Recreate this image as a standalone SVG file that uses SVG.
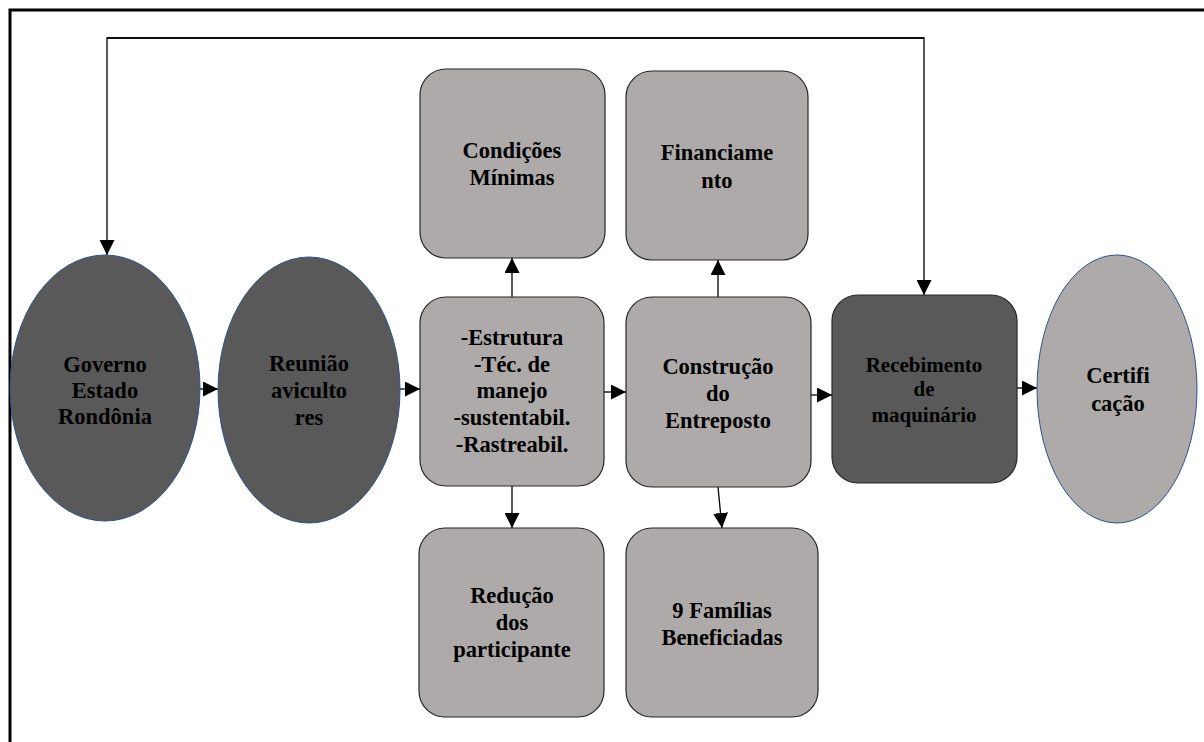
<svg xmlns="http://www.w3.org/2000/svg" width="1204" height="742" viewBox="0 0 1204 742">
<defs>
<marker id="ah" viewBox="0 0 10 10" refX="10" refY="5" markerWidth="15" markerHeight="15" markerUnits="userSpaceOnUse" orient="auto">
<path d="M0,0 L10,5 L0,10 Z" fill="#000"/>
</marker>
<style>
.dark{fill:#595959;}
.light{fill:#aeaaaa;}
.ell{stroke:#2f528f;stroke-width:1;}
.box{stroke:#262626;stroke-width:1.2;}
text{font-family:'Liberation Serif','DejaVu Serif',serif;font-weight:bold;font-size:22.5px;fill:#000;text-anchor:middle;}
.s{font-size:21px;}
.cm{fill:none;stroke:#000;stroke-width:1.3;marker-end:url(#ah);}
</style>
</defs>
<rect width="1204" height="742" fill="#fff"/>
<path d="M10,742 V10 H1204" fill="none" stroke="#000" stroke-width="3"/>

<g id="connectors">
<path class="cm" d="M924,38 H107 V255"/>
<path class="cm" d="M107,38 H924 V295"/>
<path class="cm" d="M200,389 H218"/>
<path class="cm" d="M400,389 H420"/>
<path class="cm" d="M604,392 H626"/>
<path class="cm" d="M811,395 H832"/>
<path class="cm" d="M1017,388 H1037"/>
<path class="cm" d="M512,297 V258"/>
<path class="cm" d="M718,297 V260"/>
<path class="cm" d="M512,486 V528"/>
<path class="cm" d="M718,487 L722,528"/>
</g>

<g id="governo">
<ellipse class="dark ell" cx="105" cy="388" rx="95" ry="133"/>
<text x="105" y="372">Governo</text>
<text x="105" y="398">Estado</text>
<text x="105" y="424">Rondônia</text>
</g>

<g id="reuniao">
<ellipse class="dark ell" cx="309" cy="390" rx="91" ry="133"/>
<text x="309" y="371">Reunião</text>
<text x="309" y="398">aviculto</text>
<text x="309" y="425">res</text>
</g>

<g id="estrutura">
<rect class="light box" x="420" y="297" width="184" height="189" rx="26"/>
<text x="512" y="345">-Estrutura</text>
<text x="512" y="372">-Téc. de</text>
<text x="512" y="398">manejo</text>
<text x="512" y="425">-sustentabil.</text>
<text x="512" y="452">-Rastreabil.</text>
</g>

<g id="condicoes">
<rect class="light box" x="420" y="69" width="185" height="189" rx="26"/>
<text x="512" y="158">Condições</text>
<text x="512" y="185">Mínimas</text>
</g>

<g id="reducao">
<rect class="light box" x="419" y="528" width="185" height="189" rx="26"/>
<text x="512" y="603">Redução</text>
<text x="512" y="630">dos</text>
<text x="512" y="657">participante</text>
</g>

<g id="construcao">
<rect class="light box" x="626" y="297" width="185" height="190" rx="26"/>
<text x="718" y="374">Construção</text>
<text x="718" y="401">do</text>
<text x="718" y="428">Entreposto</text>
</g>

<g id="financiamento">
<rect class="light box" x="626" y="71" width="182" height="189" rx="26"/>
<text x="717" y="160">Financiame</text>
<text x="717" y="188">nto</text>
</g>

<g id="familias">
<rect class="light box" x="626" y="528" width="192" height="189" rx="26"/>
<text x="722" y="618">9 Famílias</text>
<text x="722" y="645">Beneficiadas</text>
</g>

<g id="recebimento">
<rect class="dark box" x="832" y="295" width="185" height="188" rx="26"/>
<text class="s" x="924" y="372">Recebimento</text>
<text class="s" x="924" y="396">de</text>
<text class="s" x="924" y="422">maquinário</text>
</g>

<g id="certificacao">
<ellipse class="light ell" cx="1117" cy="389" rx="80" ry="134"/>
<text x="1118" y="383">Certifi</text>
<text x="1118" y="411">cação</text>
</g>
</svg>
